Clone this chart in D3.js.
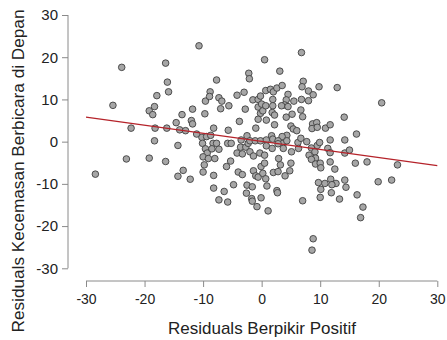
<!DOCTYPE html>
<html>
<head>
<meta charset="utf-8">
<script src="https://cdn.jsdelivr.net/npm/d3@7"></script>
<style>
  html, body { margin: 0; padding: 0; background: #ffffff; }
  svg { display: block; }
  text { font-family: "Liberation Sans", Arial, sans-serif; }
</style>
</head>
<body>
<svg id="chart" width="447" height="340"></svg>
<script>
// ---- Data ----
const xTitle = "Residuals Berpikir Positif";
const yTitle = "Residuals Kecemasan Berbicara di Depan";
const xTicks = [-30, -20, -10, 0, 10, 20, 30];
const yTicks = [-30, -20, -10, 0, 10, 20, 30];

const xResid = [
  -28.4, -25.4, -23.9, -23.1, -22.3, -19.2, -18.6, -18.3, -18.2, -18.3,
  -19.2, -17.9, -16.4, -16.1, -15.9, -16.2, -16.4, -14.6, -14.0, -13.0,
  -14.3, -13.6, -11.8, -12.0, -11.8, -11.1, -13.4, -14.3, -12.2, -10.7,
  -9.6, -9.7, -8.8, -8.9, -10.2, -9.4, -10.1, -9.6, -9.3, -10.0,
  -9.1, -9.8, -10.0, -8.2, -8.7, -8.3, -8.2, -8.2, -8.5, -7.7,
  -7.3, -6.8, -7.0, -5.6, -5.7, -7.7, -5.8, -5.2, -7.3, -8.0,
  -5.3, -6.0, -6.4, -7.3, -5.8, -4.8, -4.2, -3.0, -2.8, -3.8,
  -3.5, -2.5, -3.6, -2.7, -2.3, -4.2, -3.3, -4.0, -3.3, -2.5,
  -2.6, -2.2, -2.1, -1.5, -0.6, -0.6, -0.2, -0.6, -1.0, -2.0,
  -1.1, -2.0, -1.4, -0.3, -1.4, -1.0, -0.6, -0.1, -1.6, -1.7,
  -1.6, -0.8, -0.1, -0.2, 0.5, -0.2, 0.7, 0.0, 0.2, 0.7,
  0.8, 0.8, 0.8, 0.5, 0.2, 0.7, 0.5, 0.9, 1.1, 1.5,
  2.0, 1.9, 1.9, 1.8, 2.2, 2.2, 1.7, 1.9, 1.8, 2.0,
  2.6, 3.5, 3.1, 4.5, 4.2, 3.9, 3.4, 4.5, 4.2, 5.0,
  4.3, 3.5, 2.8, 3.7, 2.8, 3.7, 4.3, 2.9, 3.2, 2.8,
  4.0, 2.6, 2.7, 5.1, 4.8, 5.0, 5.2, 5.5, 6.8, 5.4,
  6.0, 6.2, 6.3, 6.7, 6.7, 7.0, 6.8, 7.1, 6.9, 7.0,
  8.0, 8.8, 8.0, 9.8, 8.7, 9.4, 8.6, 9.5, 7.7, 8.5,
  9.5, 9.9, 8.1, 9.1, 9.2, 8.5, 9.2, 8.8, 8.6, 10.9,
  11.7, 11.7, 11.3, 11.7, 10.0, 10.1, 11.7, 12.5, 9.7, 10.8,
  11.8, 12.7, 12.0, 10.1, 11.9, 10.0, 12.9, 13.3, 14.2, 14.1,
  16.2, 14.2, 15.0, 16.0, 18.0, 14.2, 14.4, 16.3, 17.3, 16.9,
  19.9, 22.2, 23.2, 20.5
];
const yResid = [
  -7.7, 8.6, 17.6, -4.1, 3.2, 7.3, 6.4, 8.3, 3.2, 0.2,
  -3.9, 10.9, 18.6, 14.1, 11.8, 3.2, -4.7, 4.5, 2.8, 2.6,
  -0.9, 6.4, 7.7, 5.0, 4.2, 1.8, -6.8, -8.2, -8.9, 22.7,
  9.6, 6.6, 11.8, 10.7, 1.0, 1.2, -0.4, -1.7, -2.7, -3.6,
  -4.0, -5.5, -7.2, 3.2, 1.5, -0.4, -8.0, -11.0, -1.7, 14.6,
  10.4, 9.6, 7.8, 8.5, 2.7, -0.4, -0.4, -0.4, -1.8, -4.0,
  -4.6, -5.9, -11.8, -13.8, -14.3, -10.2, 11.0, 11.7, 7.7, 4.8,
  0.4, 1.4, -1.3, -1.3, -0.4, -2.7, -2.9, -7.2, -7.8, -10.3,
  -12.2, 16.2, 14.9, 9.9, 10.0, 8.2, 6.7, 5.3, 3.2, 0.2,
  0.2, -2.4, -3.4, -2.7, -6.9, -8.1, -8.4, -5.9, -10.7, -13.5,
  -14.1, -15.4, -13.3, 0.2, 19.4, 10.8, 12.1, 8.9, 7.3, 8.5,
  5.1, 0.4, -1.0, -3.2, -7.5, -8.8, -5.1, -10.5, -16.4, 12.4,
  11.8, 10.0, 8.5, 6.9, 6.3, 4.0, 1.4, 0.6, -1.6, -7.3,
  12.7, 13.3, 16.7, 11.2, 9.9, 8.7, 8.5, 8.3, 5.8, 3.7,
  1.5, 1.2, 0.2, -0.4, -0.5, -1.6, 0.2, -4.0, -5.5, -7.1,
  -8.1, -11.6, -12.1, -2.4, -6.9, -5.1, 6.5, 9.6, 10.0, 3.0,
  2.6, -0.2, -1.6, 0.8, 7.5, 5.9, 21.1, 14.3, 13.0, -14.0,
  12.0, 11.1, 9.7, 13.0, 4.2, 4.5, 3.1, 3.4, 0.0, -1.5,
  -0.9, -0.2, -3.2, -2.4, -3.9, -4.2, -5.3, -23.0, -25.7, 3.2,
  4.0, 0.4, -1.6, -2.6, -5.1, -6.2, -4.8, -6.5, -9.7, -9.9,
  -8.9, -9.9, -10.2, -11.3, -12.1, -13.2, 12.8, -13.6, 0.4, 5.8,
  1.8, -2.7, -2.0, -5.1, -4.8, -9.1, -10.8, -12.6, -15.5, -18.0,
  -9.5, -9.1, -5.5, 9.2
];
// fitted regression line end points
const fitX = [-30, 30];
const fitY = [5.8, -5.7];

// ---- Layout ----
const svg = d3.select("#chart");
const x = d3.scaleLinear().domain([-30, 30]).range([86, 437.3]);
const y = d3.scaleLinear().domain([-30, 30]).range([268.3, 15]);

const axisColor = "#8a8a8a";
const labelColor = "#222222";

// Y axis (R-style, detached)
const yAxis = svg.append("g")
  .attr("transform", "translate(68,0)")
  .call(d3.axisLeft(y).tickValues(yTicks).tickSize(6).tickPadding(4).tickFormat(d3.format("d")));
yAxis.select(".domain").attr("stroke", axisColor).attr("d", `M0,${y(-30)}V${y(30)}`);
yAxis.selectAll(".tick line").attr("stroke", axisColor);
yAxis.selectAll(".tick text").attr("fill", labelColor).style("font-size", "15px")
  .text(d => String(d));

// X axis
const xAxis = svg.append("g")
  .attr("transform", "translate(0,281)")
  .call(d3.axisBottom(x).tickValues(xTicks).tickSize(6).tickPadding(7).tickFormat(d3.format("d")));
xAxis.select(".domain").attr("stroke", axisColor).attr("d", `M${x(-30)},0H${x(30)}`);
xAxis.selectAll(".tick line").attr("stroke", axisColor);
xAxis.selectAll(".tick text").attr("fill", labelColor).style("font-size", "14px")
  .text(d => String(d));

// Titles
svg.append("text")
  .attr("x", 262).attr("y", 334)
  .attr("text-anchor", "middle")
  .attr("fill", labelColor)
  .style("font-size", "17px")
  .text(xTitle);

svg.append("text")
  .attr("transform", "translate(24,171) rotate(-90)")
  .attr("text-anchor", "middle")
  .attr("fill", labelColor)
  .style("font-size", "17.2px")
  .text(yTitle);

// Points
const pts = xResid.map((v, i) => ({ x: v, y: yResid[i] }));
svg.append("g").selectAll("circle")
  .data(pts)
  .enter().append("circle")
  .attr("cx", d => x(d.x))
  .attr("cy", d => y(d.y))
  .attr("r", 3.3)
  .attr("fill", "#a6a6a6")
  .attr("stroke", "#3f3f3f")
  .attr("stroke-width", 0.9);

// Regression line
const line = d3.line().x(d => x(d[0])).y(d => y(d[1]));
svg.append("path")
  .datum(fitX.map((v, i) => [v, fitY[i]]))
  .attr("d", line)
  .attr("fill", "none")
  .attr("stroke", "#b5232a")
  .attr("stroke-width", 1.2);
</script>
</body>
</html>
